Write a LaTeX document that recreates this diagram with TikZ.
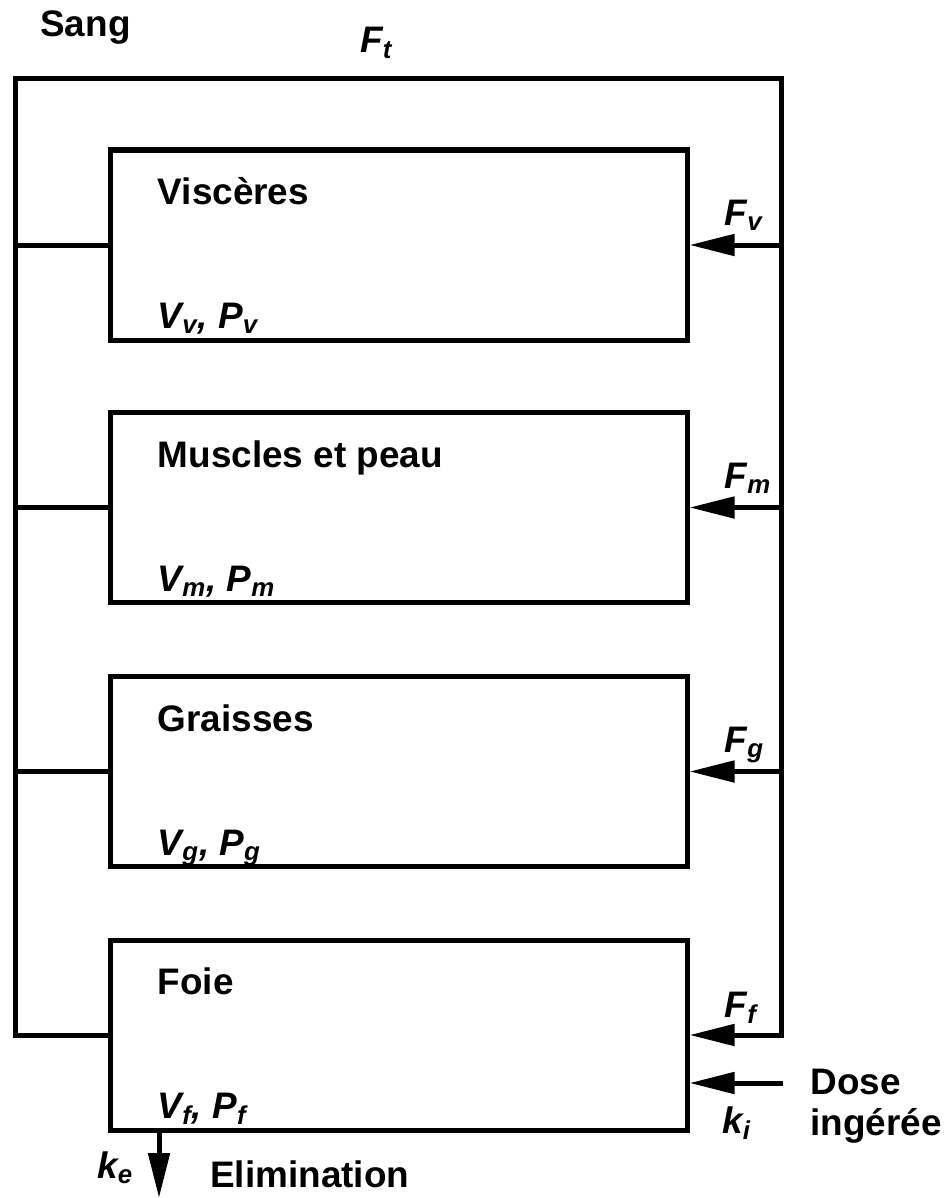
\documentclass[tikz,border=0pt]{standalone}
\usepackage{fontspec}
\setmainfont{Liberation Sans}
\usepackage{tikz}
\usetikzlibrary{arrows.meta, positioning, calc}

\begin{document}
\begin{tikzpicture}[
    font=\fontsize{21}{23}\selectfont\bfseries,
    organ/.style={draw, line width=0.1cm, minimum width=11.54cm, minimum height=3.8cm, inner sep=0pt},
    title/.style={anchor=base west, inner sep=0pt},
    param/.style={anchor=base west, inner sep=0pt, font=\fontsize{21}{23}\selectfont\bfseries\itshape},
    wire/.style={line width=0.1cm, line join=miter},
    flux/.style={wire, -{Triangle[length=0.9cm, width=0.42cm]}}
]
    \useasboundingbox (0,0) rectangle (18.92,-23.96);

    % Compartments
    \node[organ] (visc) at (7.97,-4.90) {};
    \node[organ] (musc) at (7.97,-10.15) {};
    \node[organ] (grai) at (7.97,-15.43) {};
    \node[organ] (foie) at (7.97,-20.70) {};

    \node[title] (tvisc) at ($(visc.north west)+(1.0,-1.14)$) {Viscères};
    \node[title] (tmusc) at ($(musc.north west)+(1.0,-1.14)$) {Muscles et peau};
    \node[title] (tgrai) at ($(grai.north west)+(1.0,-1.14)$) {Graisses};
    \node[title] (tfoie) at ($(foie.north west)+(1.0,-1.14)$) {Foie};

    \node[param] (pvisc) at ($(visc.south west)+(1.0,0.28)$) {V\textsubscript{v}, P\textsubscript{v}};
    \node[param] (pmusc) at ($(musc.south west)+(1.0,0.28)$) {V\textsubscript{m}, P\textsubscript{m}};
    \node[param] (pgrai) at ($(grai.south west)+(1.0,0.28)$) {V\textsubscript{g}, P\textsubscript{g}};
    \node[param] (pfoie) at ($(foie.south west)+(1.0,0.28)$) {V\textsubscript{f}, P\textsubscript{f}};

    % Blood loop
    \coordinate (tl) at (0.30,-1.58);
    \coordinate (tr) at (15.62,-1.58);
    \node[title] (sang) at (0.80,-0.74) {Sang};
    \node[param] (ft) at (7.20,-1.06) {F\textsubscript{t}};

    \draw[flux] (foie.west) -| (tl) -- (tr) |- (foie.east);
    \foreach \org in {visc, musc, grai} {
        \draw[wire] (\org.west) -- (\org.west -| tl);
        \draw[flux] (\org.east -| tr) -- (\org.east);
    }

    \node[param] (fv) at ($(visc.east)+(0.70,0.40)$) {F\textsubscript{v}};
    \node[param] (fm) at ($(musc.east)+(0.70,0.38)$) {F\textsubscript{m}};
    \node[param] (fg) at ($(grai.east)+(0.70,0.38)$) {F\textsubscript{g}};
    \node[param] (ff) at ($(foie.east)+(0.70,0.36)$) {F\textsubscript{f}};

    % Dose and elimination
    \coordinate (dose) at (15.66,-21.66);
    \draw[flux] (dose) -- (dose -| foie.east);
    \node[title, align=left] (dosetxt) at (16.20,-22.70) {Dose\\ingérée};
    \node[param] (ki) at (14.44,-22.66) {k\textsubscript{i}};

    \coordinate (elim) at (3.18,-23.96);
    \draw[flux] (foie.south -| elim) -- (elim);
    \node[param] (ke) at (1.94,-23.56) {k\textsubscript{e}};
    \node[title] (elimtxt) at (4.20,-23.74) {Elimination};
\end{tikzpicture}
\end{document}
